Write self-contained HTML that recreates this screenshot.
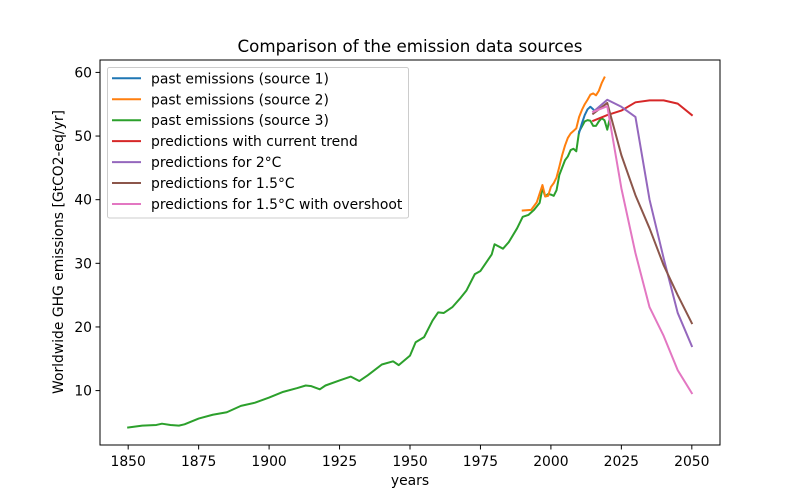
<!DOCTYPE html>
<html><head><meta charset="utf-8"><style>
html,body{margin:0;padding:0;background:#fff;}
svg{display:block;font-family:"DejaVu Sans","Liberation Sans",sans-serif;}
</style></head><body>
<svg id="chart" width="800" height="500" viewBox="0 0 800 500" xmlns="http://www.w3.org/2000/svg">
<rect width="800" height="500" fill="#fff"/>
<text x="410" y="52" font-size="16.67" text-anchor="middle">Comparison of the emission data sources</text>
<text x="410" y="485" font-size="13.9" text-anchor="middle">years</text>
<text transform="translate(63,252) rotate(-90)" font-size="13.9" text-anchor="middle">Worldwide GHG emissions [GtCO2-eq/yr]</text>
<g id="plot"></g>
</svg>
<script>
const xTicks = [1850, 1875, 1900, 1925, 1950, 1975, 2000, 2025, 2050];
const yTicks = [10, 20, 30, 40, 50, 60];
const seriesNames = ["past emissions (source 1)","past emissions (source 2)","past emissions (source 3)","predictions with current trend","predictions for 2°C","predictions for 1.5°C","predictions for 1.5°C with overshoot"];
const seriesColors = ["#1f77b4","#ff7f0e","#2ca02c","#d62728","#9467bd","#8c564b","#e377c2"];
const src3Years = [1850,1855,1860,1862,1865,1868,1870,1875,1880,1885,1890,1895,1900,1905,1910,1913,1915,1918,1920,1925,1929,1932,1935,1940,1944,1946,1950,1952,1955,1958,1960,1962,1965,1968,1970,1973,1975,1977,1979,1980,1983,1985,1988,1990,1992,1994,1996,1997,1998,1999,2000,2001,2002,2003,2005,2006,2007,2008,2009,2010,2011,2012,2013,2014,2015,2016,2017,2018,2019,2020,2021];
const src3Values = [4.2,4.5,4.6,4.8,4.6,4.5,4.7,5.6,6.2,6.6,7.6,8.1,8.9,9.8,10.4,10.8,10.7,10.2,10.8,11.6,12.2,11.5,12.4,14.1,14.6,14.0,15.5,17.6,18.4,21.0,22.3,22.2,23.1,24.6,25.7,28.3,28.8,30.1,31.4,33.0,32.3,33.3,35.5,37.3,37.6,38.4,39.5,41.8,40.5,40.9,40.8,40.6,41.5,43.9,46.2,46.8,47.8,48.0,47.6,50.7,51.5,52.3,52.5,52.4,51.6,51.6,52.3,52.8,52.5,51.0,53.0];
const src2Years = [1990,1993,1995,1997,1998,1999,2000,2001,2002,2003,2004,2005,2006,2007,2008,2009,2010,2011,2012,2013,2014,2015,2016,2017,2018,2019];
const src2Values = [38.3,38.4,39.6,42.3,40.5,40.6,42.0,42.6,43.5,45.2,47.0,48.5,49.7,50.4,50.8,51.2,53.0,54.1,55.0,55.7,56.5,56.7,56.4,57.1,58.3,59.2];
const src1Years = [2010,2011,2012,2013,2014,2015];
const src1Values = [50.5,52.0,53.3,54.2,54.6,54.2];
const predYears = [2015,2020,2025,2030,2035,2040,2045,2050];
const trendValues = [52.4,53.3,54.0,55.3,55.6,55.6,55.1,53.3];
const twoDegValues = [53.8,55.7,54.6,53.0,40.0,30.8,22.2,17.0];
const onePointFiveValues = [53.5,55.2,47.0,40.7,35.5,29.7,25.0,20.6];
const overshootValues = [53.8,54.7,41.8,31.6,23.1,18.6,13.2,9.6];

const L=100,R=720,T=60,B=445, x0=1840,x1=2060,y0=1.45,y1=61.95;
const xs=v=>L+(v-x0)/(x1-x0)*(R-L);
const ys=v=>B-(v-y0)/(y1-y0)*(B-T);
const NS="http://www.w3.org/2000/svg";
const g=document.getElementById('plot');
function mk(tag,attrs,parent){const e=document.createElementNS(NS,tag);for(const k in attrs)e.setAttribute(k,attrs[k]);(parent||g).appendChild(e);return e;}

const series=[[src1Years,src1Values],[src2Years,src2Values],[src3Years,src3Values],[predYears,trendValues],[predYears,twoDegValues],[predYears,onePointFiveValues],[predYears,overshootValues]];
const lineNames=['line-source-1','line-source-2','line-source-3','line-current-trend','line-2-degrees','line-1-5-degrees','line-1-5-overshoot'];
const drawOrder=[2,0,1,3,4,5,6];
drawOrder.forEach(i=>{
  const [xv,yv]=series[i];
  const d=xv.map((x,j)=>(j?'L':'M')+xs(x).toFixed(2)+','+ys(yv[j]).toFixed(2)).join(' ');
  const p=mk('path',{d:d,fill:'none',stroke:seriesColors[i],'stroke-width':2,'stroke-linejoin':'round','stroke-linecap':'square'});
  
  
});

const frame=mk('rect',{x:L,y:T,width:R-L,height:B-T,fill:'none',stroke:'#000','stroke-width':1});



xTicks.forEach(t=>{
  const X=xs(t);
  const tk=mk('line',{x1:X,x2:X,y1:B,y2:B+4.5,stroke:'#000','stroke-width':1});
  
  
  const tx=mk('text',{x:X,y:B+21,'font-size':13.9,'text-anchor':'middle'});
  tx.textContent=t;
  
  
});
yTicks.forEach(t=>{
  const Y=ys(t);
  const tk=mk('line',{x1:L-4.5,x2:L,y1:Y,y2:Y,stroke:'#000','stroke-width':1});
  
  
  const tx=mk('text',{x:L-8,y:Y+5,'font-size':13.9,'text-anchor':'end'});
  tx.textContent=t;
  
  
});

const lg=mk('g',{});


mk('rect',{x:107.5,y:67.5,width:301,height:150.5,rx:2,fill:'#fff','fill-opacity':0.8,stroke:'#ccc','stroke-width':1},lg);
seriesNames.forEach((n,i)=>{
  const Y=78.3+i*20.95;
  const e=mk('g',{},lg);
  
  
  mk('line',{x1:112,x2:141,y1:Y,y2:Y,stroke:seriesColors[i],'stroke-width':2},e);
  const t=mk('text',{x:151,y:Y+5,'font-size':13.9},e);
  t.textContent=n;
});
</script>
</body></html>
